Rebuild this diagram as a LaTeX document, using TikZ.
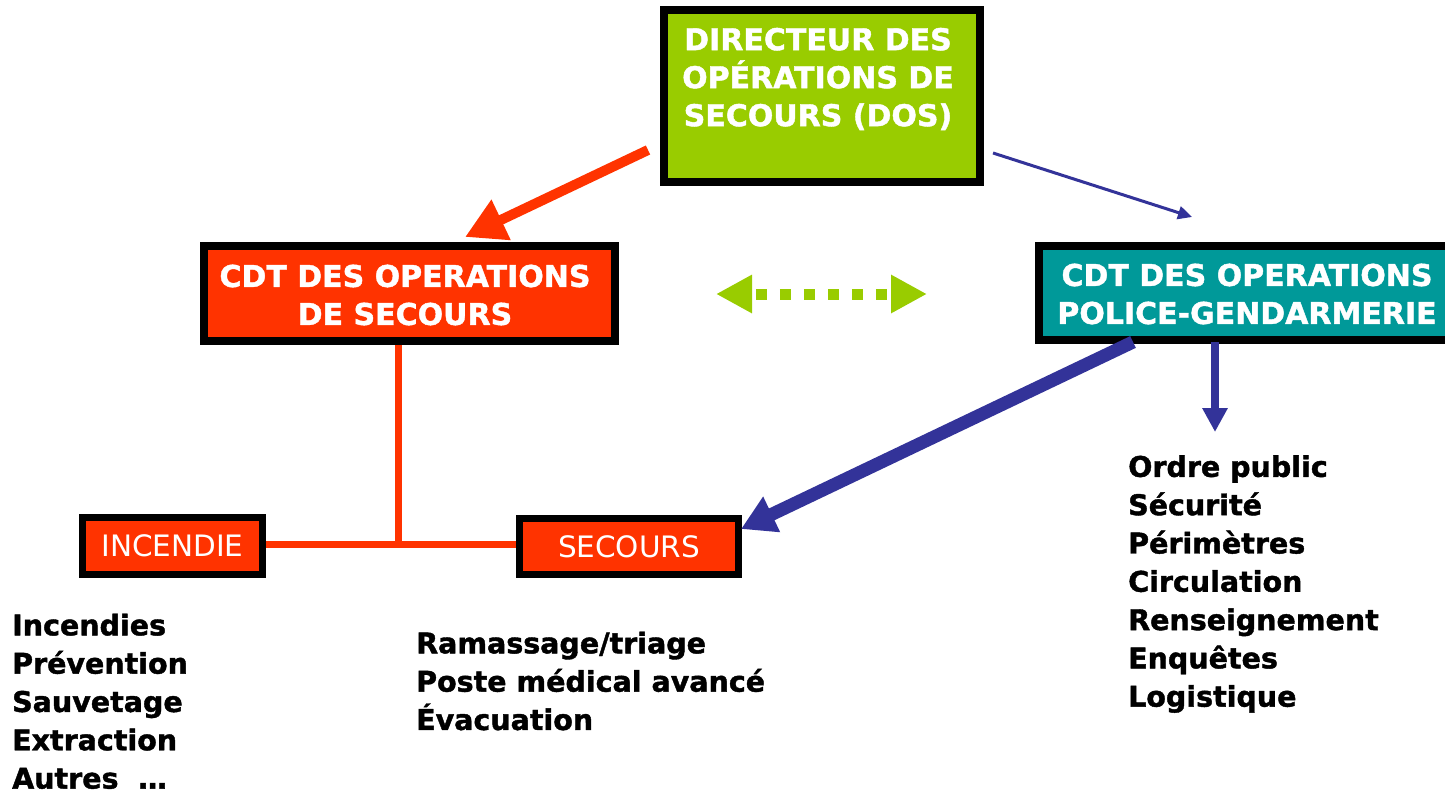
\documentclass[tikz,border=0pt]{standalone}
\usepackage{fontspec}
\setmainfont{DejaVu Sans}
\newfontfamily\boldfont[FakeBold=1.4]{DejaVu Sans Bold}
\usetikzlibrary{arrows.meta}
\definecolor{dosgreen}{HTML}{99CC00}
\definecolor{secred}{HTML}{FF3300}
\definecolor{polteal}{HTML}{009999}
\definecolor{polblue}{HTML}{333399}
\tikzset{
  box/.style={draw=black, line width=8pt, inner sep=0pt},
  smallbox/.style={draw=black, line width=7pt, inner sep=0pt, fill=secred,
    text=white, font=\fontsize{29.5}{34}\selectfont},
  boxtext/.style={text=white, align=center, inner sep=0pt,
    font=\boldfont\fontsize{30}{38}\selectfont},
  listtext/.style={align=left, inner sep=0pt, anchor=north west,
    font=\boldfont\fontsize{28.5}{38.3}\selectfont},
}
\begin{document}
\begin{tikzpicture}[x=1pt,y=-1pt]
\useasboundingbox (0,0) rectangle (1445,793);
% boxes
\node[box, fill=dosgreen, minimum width=316pt, minimum height=172pt] (dos) at (822,96) {};
\node[boxtext] (dosT) at (818,79) {DIRECTEUR DES\\OPÉRATIONS DE\\SECOURS (DOS)};
\node[box, fill=secred, minimum width=411pt, minimum height=95pt] (cdt) at (409.5,293.5) {};
\node[boxtext] (cdtT) at (405,295) {CDT DES OPERATIONS\\DE SECOURS};
\node[box, fill=polteal, minimum width=412pt, minimum height=94pt] (pol) at (1245,293) {};
\node[boxtext] (polT) at (1247,294) {CDT DES OPERATIONS\\POLICE-GENDARMERIE};
\node[smallbox, minimum width=180pt, minimum height=57pt] (inc) at (172.5,546) {INCENDIE};
\node[smallbox, minimum width=219pt, minimum height=56pt] (sec) at (629,546.5) {SECOURS};
% connectors
\coordinate (junc) at (398,544);
\draw[secred, line width=7pt] (inc.east |- junc) -- (sec.west |- junc);
\draw[secred, line width=7pt] (junc |- cdt.south) -- (junc);
\coordinate (rA) at (648,150);
\coordinate (rB) at (465,237);
\draw[secred, line width=10pt, -{Triangle[length=40pt,width=42pt]}] (rA) -- (rB);
\coordinate (bA) at (993,153);
\coordinate (bB) at (1192,217);
\draw[polblue, line width=3pt, -{Triangle[length=14pt,width=13pt]}] (bA) -- (bB);
\coordinate (gA) at (716,294);
\coordinate (gB) at (927,294);
\draw[dosgreen, line width=11pt, dash pattern=on 11pt off 13pt, dash phase=-6pt,
  {Triangle[length=36pt,width=36pt]}-{Triangle[length=36pt,width=36pt]}] (gA) -- (gB);
\coordinate (tA) at (1133,342);
\coordinate (tB) at (741,529);
\draw[polblue, line width=13pt, -{Triangle[length=34pt,width=37pt]}] (tA) -- (tB);
\coordinate (dA) at (1215,342);
\coordinate (dB) at (1215,432);
\draw[polblue, line width=8pt, -{Triangle[length=24pt,width=24pt]}] (dA) -- (dB);
% lists
\node[listtext, text depth=0pt] (incL) at (12,613.5) {Incendies\\Prévention\\Sauvetage\\Extraction\\Autres\ \ …};
\node[listtext] (secL) at (416,631.5) {Ramassage/triage\\Poste médical avancé\\Évacuation};
\node[listtext] (polL) at (1128,455) {Ordre public\\Sécurité\\Périmètres\\Circulation\\Renseignement\\Enquêtes\\Logistique};
\end{tikzpicture}
\end{document}
